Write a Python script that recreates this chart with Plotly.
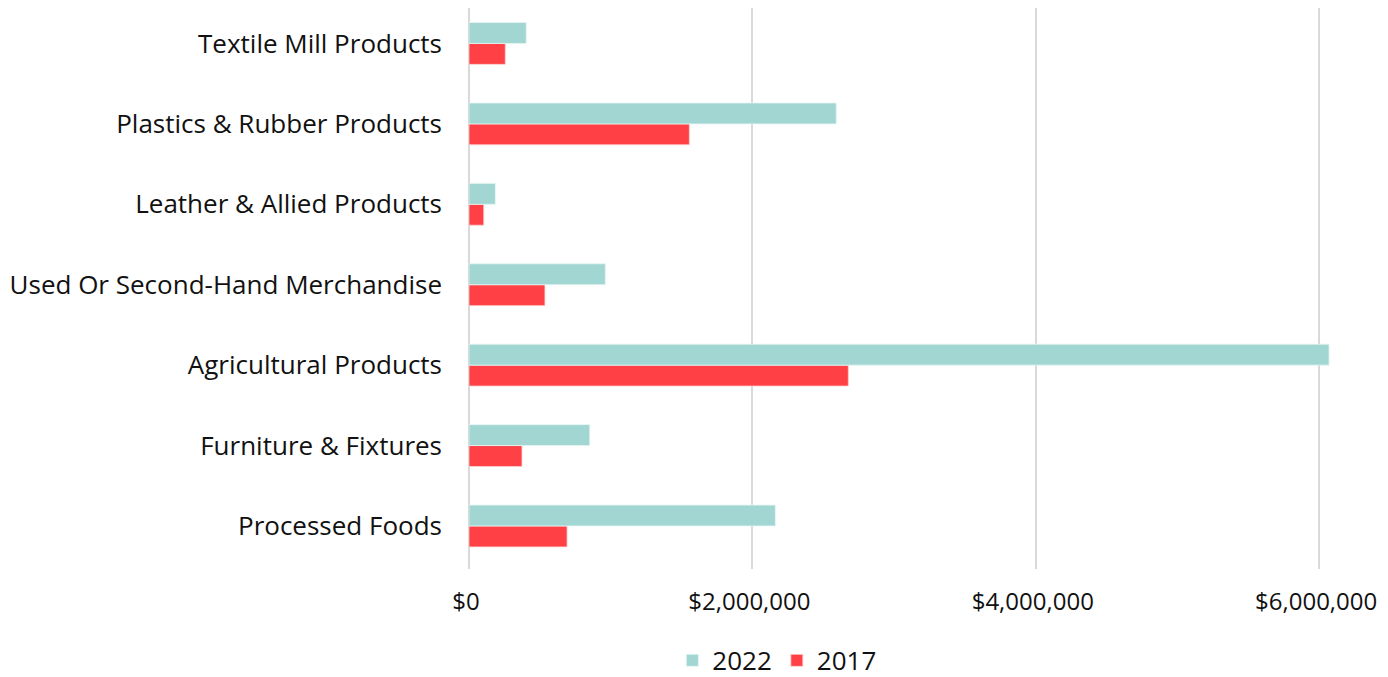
import plotly.graph_objects as go

categories = [
    "Processed Foods",
    "Furniture & Fixtures",
    "Agricultural Products",
    "Used Or Second-Hand Merchandise",
    "Leather & Allied Products",
    "Plastics & Rubber Products",
    "Textile Mill Products",
]
values_2022 = [2162000, 852000, 6070000, 962000, 186000, 2592000, 404000]
values_2017 = [692000, 374000, 2677000, 536000, 104000, 1555000, 256000]
tick_vals = [0, 2000000, 4000000, 6000000]
tick_text = ["$0", "$2,000,000", "$4,000,000", "$6,000,000"]

FONT = "Open Sans"
TXT = "#111111"
FS = 26

fig = go.Figure()
fig.add_trace(go.Bar(
    y=categories, x=values_2017, name="2017", orientation="h",
    marker=dict(color="#ff4044", line=dict(color="#ffd0d0", width=0.8)),
))
fig.add_trace(go.Bar(
    y=categories, x=values_2022, name="2022", orientation="h",
    marker=dict(color="#a1d6d2", line=dict(color="#e6f5f3", width=0.8)),
))

fig.update_layout(
    width=1380, height=669,
    margin=dict(l=461, r=0, t=0, b=108, autoexpand=False),
    barmode="group",
    bargap=0.48,
    bargroupgap=0,
    plot_bgcolor="white",
    paper_bgcolor="white",
    font=dict(family=FONT, size=FS, color=TXT),
    showlegend=True,
    legend=dict(
        orientation="h", traceorder="reversed",
        x=0.335, xref="paper", xanchor="center",
        y=-0.163, yanchor="middle",
        font=dict(family=FONT, size=FS, color=TXT),
        itemclick=False,
    ),
    xaxis=dict(
        range=[0, 6486000],
        tickvals=tick_vals, ticktext=tick_text,
        showgrid=True, gridcolor="#d9d9d9", gridwidth=2,
        zeroline=True, zerolinecolor="#d9d9d9", zerolinewidth=2,
        showline=False, ticks="",
        automargin=False,
        ticklabeloverflow="allow",
        ticklabelshift=-3,
        tickfont=dict(family=FONT, size=24, color=TXT),
        ticklabelstandoff=16,
    ),
    yaxis=dict(
        categoryorder="array", categoryarray=categories,
        range=[-0.535, 6.441],
        showgrid=False, showline=False, ticks="",
        automargin=False,
        ticklabelstandoff=26,
        tickfont=dict(family=FONT, size=FS, color=TXT),
    ),
)

fig.write_html("out.html")
